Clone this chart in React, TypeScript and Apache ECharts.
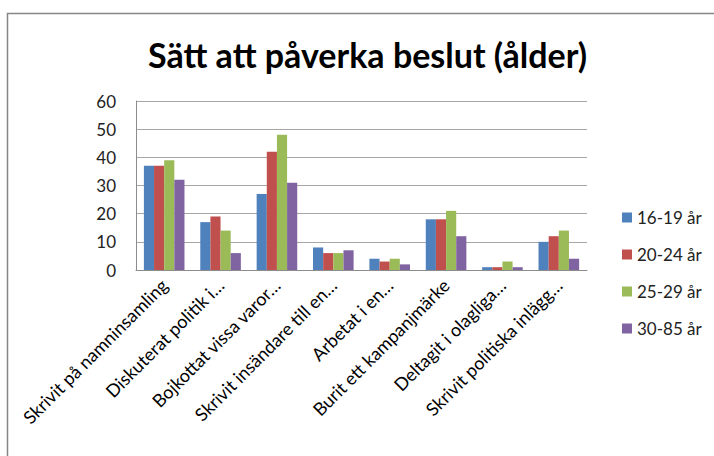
import React, { useEffect, useRef } from "react";
import * as echarts from "echarts";

const categories = [
  "Skrivit på namninsamling",
  "Diskuterat politik i…",
  "Bojkottat vissa varor…",
  "Skrivit insändare till en…",
  "Arbetat i en…",
  "Burit ett kampanjmärke",
  "Deltagit i olagliga…",
  "Skrivit politiska inlägg…",
];
const seriesNames = ["16-19 år", "20-24 år", "25-29 år", "30-85 år"];
const s1619 = [37, 17, 27, 8, 4, 18, 1, 10];
const s2024 = [37, 19, 42, 6, 3, 18, 1, 12];
const s2529 = [39, 14, 48, 6, 4, 21, 3, 14];
const s3085 = [32, 6, 31, 7, 2, 12, 1, 4];
const colors = ["#4F81BD", "#C0504D", "#9BBB59", "#8064A2"];
const title = "Sätt att påverka beslut (ålder)";

export default function App() {
  const ref = useRef<HTMLDivElement>(null);
  useEffect(() => {
    document.body.style.margin = "0";
    const chart = echarts.init(ref.current!, null, { renderer: "svg" });
    const data = [s1619, s2024, s2529, s3085];
    chart.setOption({
      animation: false,
      backgroundColor: "#ffffff",
      title: {
        text: title,
        left: 143,
        top: 32,
        textStyle: {
          fontFamily: "Lato",
          fontWeight: "bold",
          fontSize: 34,
          color: "#000",
        },
      },
      graphic: [
        {
          type: "rect",
          shape: { x: 7.5, y: 13.5, width: 760, height: 500 },
          style: { fill: "none", stroke: "#868686", lineWidth: 1.5 },
          silent: true,
        },
      ],
      legend: {
        orient: "vertical",
        left: 617,
        top: 204,
        itemWidth: 10,
        itemHeight: 10,
        itemGap: 20,
        icon: "rect",
        textStyle: {
          fontFamily: "Lato",
          fontSize: 17,
          lineHeight: 16,
          color: "#222",
        },
        data: seriesNames,
      },
      grid: { left: 136, right: 127, top: 101, bottom: 186 },
      xAxis: {
        type: "category",
        data: categories,
        axisLine: { show: true, lineStyle: { color: "#8c8c8c", width: 1 } },
        axisTick: { show: false },
        axisLabel: {
          interval: 0,
          rotate: 45,
          margin: 12,
          fontFamily: "Lato",
          fontSize: 18,
          color: "#000",
        },
      },
      yAxis: {
        type: "value",
        min: 0,
        max: 60,
        interval: 10,
        axisLine: { show: true, lineStyle: { color: "#8c8c8c", width: 1 } },
        axisTick: { show: false },
        splitLine: { lineStyle: { color: "#a6a6a6", width: 1 } },
        axisLabel: {
          margin: 20,
          fontFamily: "Lato",
          fontSize: 17,
          color: "#222",
        },
      },
      series: seriesNames.map((name, i) => ({
        name,
        type: "bar",
        data: data[i],
        barGap: "0%",
        barCategoryGap: "28%",
        itemStyle: { color: colors[i] },
      })),
    });
    return () => chart.dispose();
  }, []);
  return <div ref={ref} style={{ width: 714, height: 456 }} />;
}
